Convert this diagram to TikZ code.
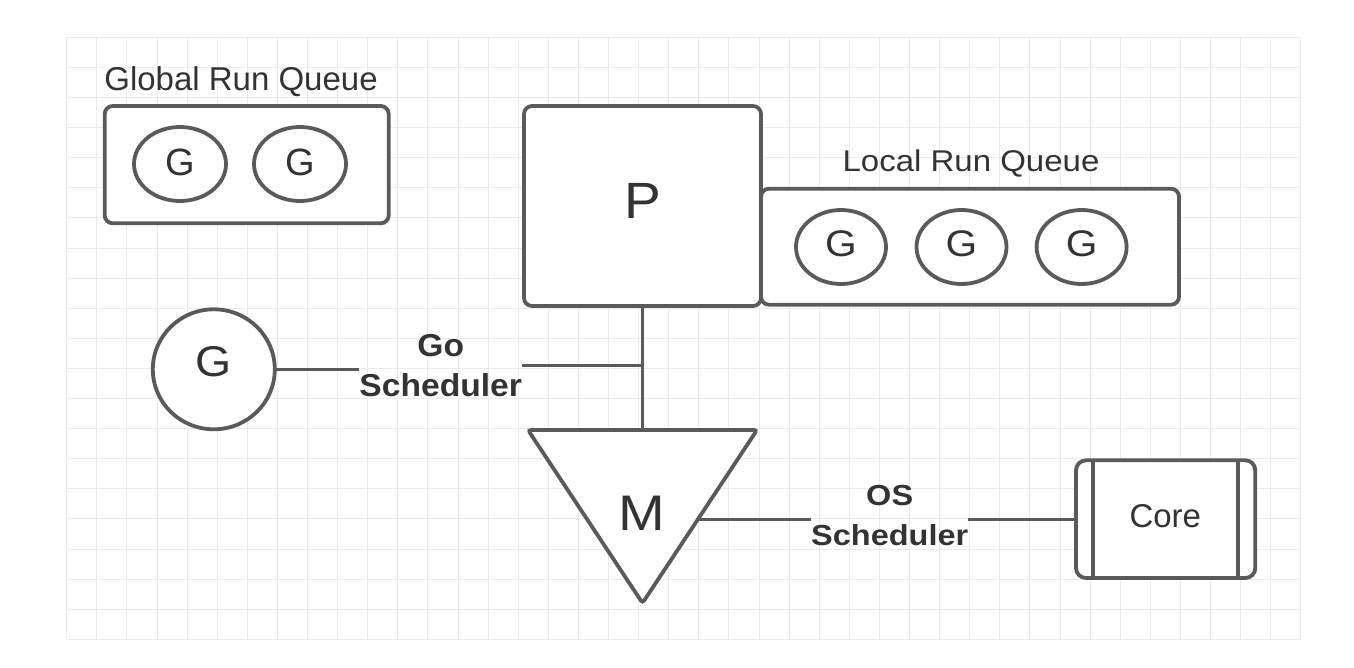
\documentclass[tikz,border=0pt]{standalone}
\usepackage{fontspec}
\setmainfont{Liberation Sans}
\usetikzlibrary{shapes.geometric}
\definecolor{strokec}{HTML}{5A5A5A}
\definecolor{txt}{HTML}{333333}
\definecolor{gridc}{HTML}{EBEBEB}
\newcommand{\hs}[2]{\scalebox{#1}[1]{#2}}
\newcommand{\fs}[1]{\fontsize{#1}{#1}\selectfont}
\begin{document}
\begin{tikzpicture}[x=1pt,y=-1pt,
  shapeline/.style={draw=strokec, line width=3.8pt, fill=white},
  box/.style={shapeline, rectangle, rounded corners=8pt, inner sep=0pt, outer sep=0pt},
  goval/.style={shapeline, ellipse, inner sep=0pt, outer sep=0pt},
  conn/.style={draw=strokec, line width=2.7pt},
  lbl/.style={text=txt, inner sep=0pt, outer sep=0pt, anchor=base},
  blbl/.style={lbl, font=\bfseries}
]
\useasboundingbox (0,0) rectangle (1354,667);
\fill[white] (0,0) rectangle (1354,667);
% grid
\foreach \i in {0,...,41} \draw[gridc, line width=0.9pt] ({66.7+30.1*\i},37.3) -- ({66.7+30.1*\i},639.3);
\foreach \j in {0,...,20} \draw[gridc, line width=0.9pt] (66.7,{37.3+30.1*\j}) -- (1300.7,{37.3+30.1*\j});

% Global run queue
\node[lbl] (gtitle) at (241,90.7) {\fs{33}Global Run Queue};
\node[box, minimum width=284pt, minimum height=117.3pt] (gq) at (246.7,164.65) {};
\node[goval, minimum width=92pt, minimum height=74pt] (g1) at (180,164) {};
\node[goval, minimum width=92pt, minimum height=74pt] (g2) at (300,164) {};
\node[lbl] (g1t) at (180,175) {\fs{38}G};
\node[lbl] (g2t) at (300,175) {\fs{38}G};

% Local run queue and P
\node[lbl] (ltitle) at (971,171.7) {\hs{1.1}{\fs{30}Local Run Queue}};
\node[box, minimum width=418pt, minimum height=116pt] (lq) at (970,246.7) {};
\node[box, minimum width=237pt, minimum height=200pt] (P) at (642.5,206) {};
\node[lbl] (Pt) at (643,218.3) {\hs{1.08}{\fs{51}P}};
\node[goval, minimum width=90pt, minimum height=74pt] (l1) at (841,247) {};
\node[goval, minimum width=90pt, minimum height=74pt] (l2) at (961.5,247) {};
\node[goval, minimum width=90pt, minimum height=74pt] (l3) at (1081.6,247) {};
\node[lbl] (l1t) at (841,256.7) {\hs{1.1}{\fs{37}G}};
\node[lbl] (l2t) at (961.5,256.7) {\hs{1.1}{\fs{37}G}};
\node[lbl] (l3t) at (1081.6,256.7) {\hs{1.1}{\fs{37}G}};

% Big G
\node[goval, minimum width=122pt, minimum height=120pt] (bigG) at (213.8,369.3) {};
\node[lbl] (bigGt) at (213.3,376.7) {\hs{1.08}{\fs{43}G}};

% Go scheduler
\node[blbl] (goA) at (440.7,356) {\hs{1.06}{\fs{31.7}Go}};
\node[blbl] (goB) at (440.7,396.7) {\hs{1.06}{\fs{31.7}Scheduler}};
\coordinate (jn) at (642.5,365.7);
\draw[conn] (bigG.east) -- (goB.west |- bigG.east);
\draw[conn] (goB.east |- jn) -- (jn);

% M triangle
\coordinate (Mtop) at (642.5,430);
\coordinate (Mright) at (698,519.3);
\draw[conn] (P.south) -- (Mtop);
\draw[shapeline, rounded corners=3pt] (528,430) -- (757,430) -- (642.5,603) -- cycle;
\node[lbl] (Mt) at (642,530.7) {\hs{1.12}{\fs{50}M}};

% OS scheduler and Core
\node[box, rounded corners=10pt, minimum width=179.3pt, minimum height=117.7pt] (Core) at (1165.65,519.15) {};
\draw[strokec, line width=3.8pt] ([xshift=16.7pt]Core.north west) -- ([xshift=16.7pt]Core.south west);
\draw[strokec, line width=3.8pt] ([xshift=-17.6pt]Core.north east) -- ([xshift=-17.6pt]Core.south east);
\node[lbl] (Coret) at (1165.3,527.3) {\fs{33}Core};
\node[blbl] (osA) at (889.7,505) {\hs{1.12}{\fs{29}OS}};
\node[blbl] (osB) at (889.7,545) {\hs{1.12}{\fs{29}Scheduler}};
\draw[conn] (Mright) -- (osB.west |- Mright);
\draw[conn] (osB.east |- Core.west) -- (Core.west);
\end{tikzpicture}
\end{document}
